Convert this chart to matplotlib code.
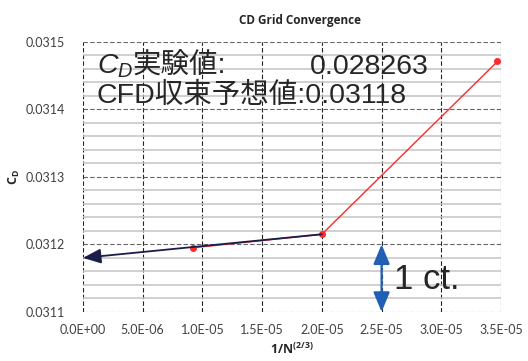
import matplotlib
matplotlib.use("Agg")
import matplotlib.pyplot as plt
from matplotlib.ticker import MultipleLocator

plt.rcParams["mathtext.fontset"] = "custom"
plt.rcParams["mathtext.rm"] = "Liberation Sans"
plt.rcParams["mathtext.it"] = "Liberation Sans:italic"
plt.rcParams["mathtext.bf"] = "Open Sans:bold"

# grid study: 1/N^(2/3) vs CD
inv_n = [9.2e-6, 2.0e-5, 3.47e-5]
cd = [0.031195, 0.031215, 0.031471]
cd_exp = 0.028263
cd_extrap = 0.03118
one_count = 0.0001

x_ticks = [0, 5e-6, 1e-5, 1.5e-5, 2e-5, 2.5e-5, 3e-5, 3.5e-5]
x_labels = ["0.0E+00", "5.0E-06", "1.0E-05", "1.5E-05", "2.0E-05",
            "2.5E-05", "3.0E-05", "3.5E-05"]
y_ticks = [0.0311, 0.0312, 0.0313, 0.0314, 0.0315]

jp_font = ["Liberation Sans", "Noto Sans CJK JP"]
tick_font = "Lato"
bold_font = "Open Sans"
txt_col = "#262626"

fig = plt.figure(figsize=(5.28, 3.61), dpi=100)
ax = fig.add_axes([0.157, 0.136, 0.792, 0.748])

ax.set_xlim(0, 3.5e-5)
ax.set_ylim(0.0311, 0.0315)

# minor solid gridlines first, then dashed majors on top
ax.yaxis.set_minor_locator(MultipleLocator(0.00002))
ax.grid(which="minor", axis="y", color="#c4c4c4", lw=1.1, ls="-")
ax.set_xticks(x_ticks)
ax.set_xticklabels(x_labels)
ax.set_yticks(y_ticks)
ax.set_yticklabels([f"{v:.4f}" for v in y_ticks])
ax.grid(which="major", axis="x", color="#222222", lw=0.8, ls=(0, (4, 2)))
ax.grid(which="major", axis="y", color="#666666", lw=0.8, ls=(0, (4, 2)))
ax.set_axisbelow(True)
for s in ax.spines.values():
    s.set_visible(False)
ax.tick_params(which="both", length=0)
ax.tick_params(axis="y", pad=13, labelsize=9, labelcolor="#404040")
ax.tick_params(axis="x", pad=9, labelsize=9, labelcolor="#404040")
for lab in ax.get_xticklabels() + ax.get_yticklabels():
    lab.set_family(tick_font)

ax.plot(inv_n, cd, color="#ff2a2a", lw=1.0, marker="o", ms=4, zorder=3)

# extrapolation to infinite grid
ax.annotate("", xy=(0, cd_extrap), xytext=(inv_n[1], cd[1]),
            arrowprops=dict(arrowstyle="-|>,head_length=1.1,head_width=0.45",
                            mutation_scale=10, lw=1.3, color="#1c1c4a",
                            shrinkA=0, shrinkB=0), zorder=4)

# one drag count
ax.annotate("", xy=(2.5e-5, y_ticks[0]), xytext=(2.5e-5, y_ticks[0] + one_count),
            arrowprops=dict(arrowstyle="<|-|>,head_length=1.2,head_width=0.5",
                            mutation_scale=10, lw=1.6, color="#1f5fb4",
                            shrinkA=0, shrinkB=0), zorder=4)
ax.text(2.6e-5, 0.031134, "1 ct.", fontsize=25, family=jp_font, color=txt_col,
        va="baseline", zorder=5)

# summary text
t1 = ax.text(1.15e-6, 0.031453, "$C_D$", fontsize=20.5, color=txt_col,
             va="baseline", zorder=5)
ax.annotate("実験値:", xy=(1.0, 0.031453), xycoords=(t1, "data"),
            fontsize=20.5, family=jp_font, color=txt_col, va="baseline",
            ha="left", zorder=5)
ax.text(1.9e-5, 0.031453, f"{cd_exp}", fontsize=20.5, family=jp_font,
        color=txt_col, va="baseline", zorder=5)
ax.text(1.15e-6, 0.03141, f"CFD収束予想値:{cd_extrap}", fontsize=20.5,
        family=jp_font, color=txt_col, va="baseline", zorder=5)

ax.set_title("CD Grid Convergence", fontsize=8.5, fontweight="bold",
             family=bold_font, color=txt_col, pad=13, x=0.52)
ax.set_xlabel(r"$\mathbf{1/N^{(2/3)}}$", fontsize=9, color=txt_col, labelpad=4)
ax.set_ylabel(r"$\mathbf{C_D}$", fontsize=9, color=txt_col)
ax.yaxis.set_label_coords(-0.145, 0.5)

fig.savefig("out.png", dpi=100)
